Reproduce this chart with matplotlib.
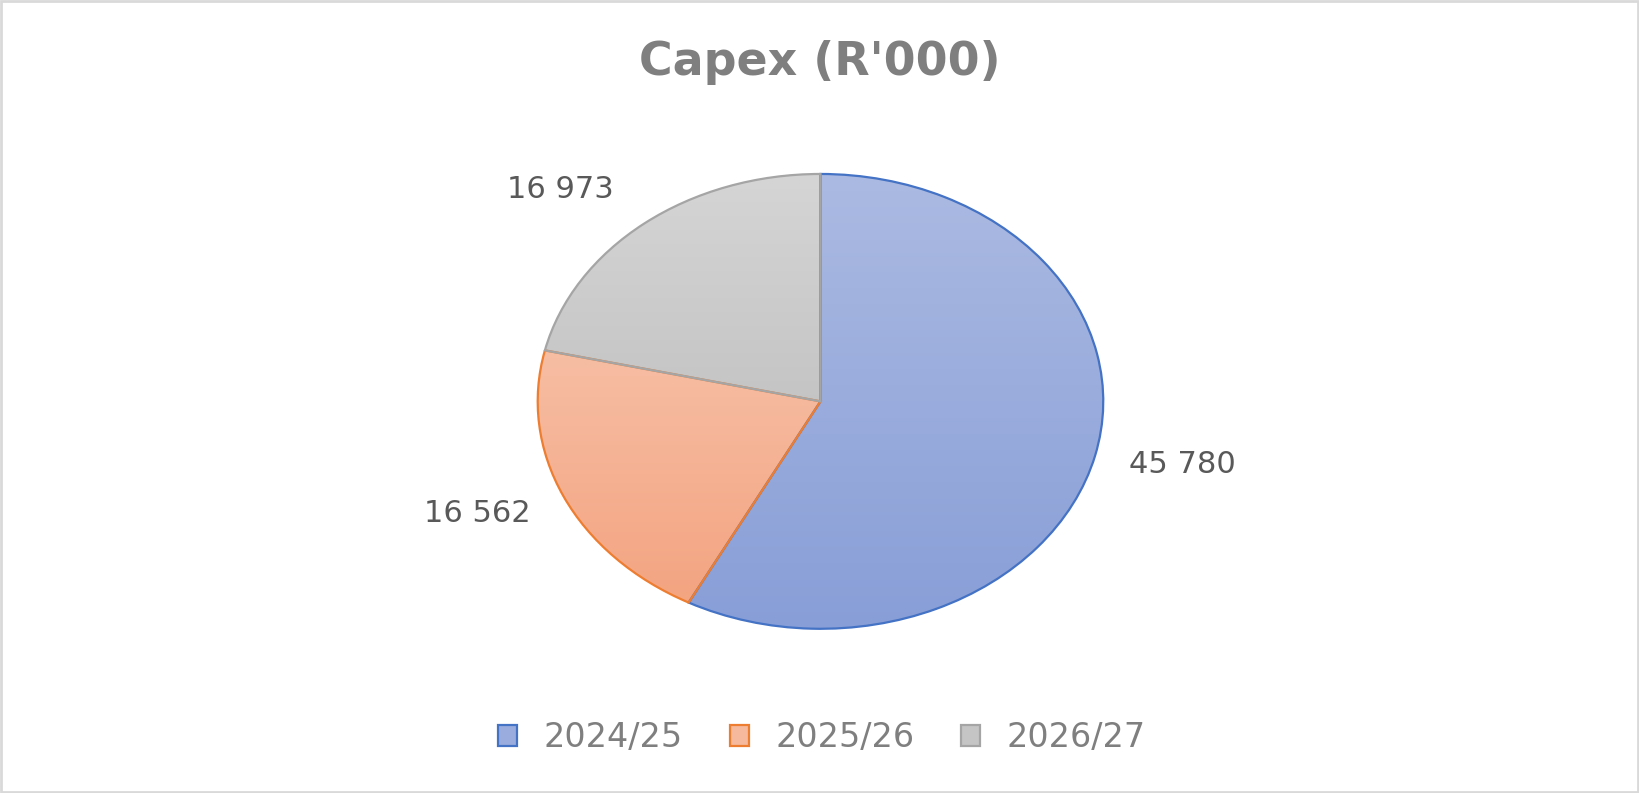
import numpy as np
import matplotlib.pyplot as plt
from matplotlib.patches import Patch, Rectangle

# chart data
years = ["2024/25", "2025/26", "2026/27"]
capex = [45780, 16562, 16973]

# style: Excel-like gradient fills (top -> bottom) and outline colours
edge_colors = ["#4472C4", "#ED7D31", "#A5A5A5"]
top_colors = [(171, 186, 226), (249, 208, 188), (213, 213, 213)]
bottom_colors = [(136, 158, 215), (243, 161, 125), (180, 180, 180)]

fig = plt.figure(figsize=(16.39, 7.93), dpi=100)
ax = fig.add_axes([0.2418, 0.0637, 0.5176, 0.8603])

wedges, _ = ax.pie(capex, startangle=90, counterclock=False,
                   colors=["none"] * len(capex),
                   wedgeprops=dict(linewidth=1.6))

ys = np.linspace(0, 1, 256)[:, None, None]
for w, ec, top, bot in zip(wedges, edge_colors, top_colors, bottom_colors):
    w.set_edgecolor(ec)
    w.set_facecolor("none")
    w.set_zorder(3)
    grad = (np.array(top) * (1 - ys) + np.array(bot) * ys) / 255.0
    im = ax.imshow(grad, extent=(-1, 1, -1, 1), origin="upper",
                   aspect="auto", zorder=1, interpolation="bilinear")
    im.set_clip_path(w)

# data labels placed just outside each slice (best-fit style nudges)
nudge = [1.6, -2.5, 6.1]
for w, v, dang in zip(wedges, capex, nudge):
    a = np.deg2rad((w.theta1 + w.theta2) / 2 + dang)
    ax.text(1.31 * np.cos(a), 1.31 * np.sin(a), f"{v:,}".replace(",", " "),
            ha="center", va="center", fontsize=22, color="#595959",
            clip_on=False)

ax.set_aspect("auto")
ax.set_xlim(-1.5, 1.5)
ax.set_ylim(-1.5, 1.5)
ax.axis("off")

fig.text(0.5003, 0.9206, "Capex (R'000)", ha="center", va="center",
         fontsize=33, fontweight="bold", color="#7F7F7F")

handles = []
for ec, top, bot in zip(edge_colors, top_colors, bottom_colors):
    mid = tuple((t + b) / 2 / 255.0 for t, b in zip(top, bot))
    handles.append(Patch(facecolor=mid, edgecolor=ec, linewidth=1.6))
leg = fig.legend(handles, years, loc="center", bbox_to_anchor=(0.5015, 0.0694),
                 ncol=3, frameon=False, fontsize=24, handlelength=0.57,
                 handleheight=0.57, handletextpad=0.8, columnspacing=1.4)
for t in leg.get_texts():
    t.set_color("#7F7F7F")

# light outer border like the chart area frame
fig.patches.append(Rectangle((0.0008, 0.0015), 0.9984, 0.997,
                             transform=fig.transFigure, fill=False,
                             edgecolor="#D9D9D9", linewidth=2))

fig.savefig("out.png", dpi=100)
